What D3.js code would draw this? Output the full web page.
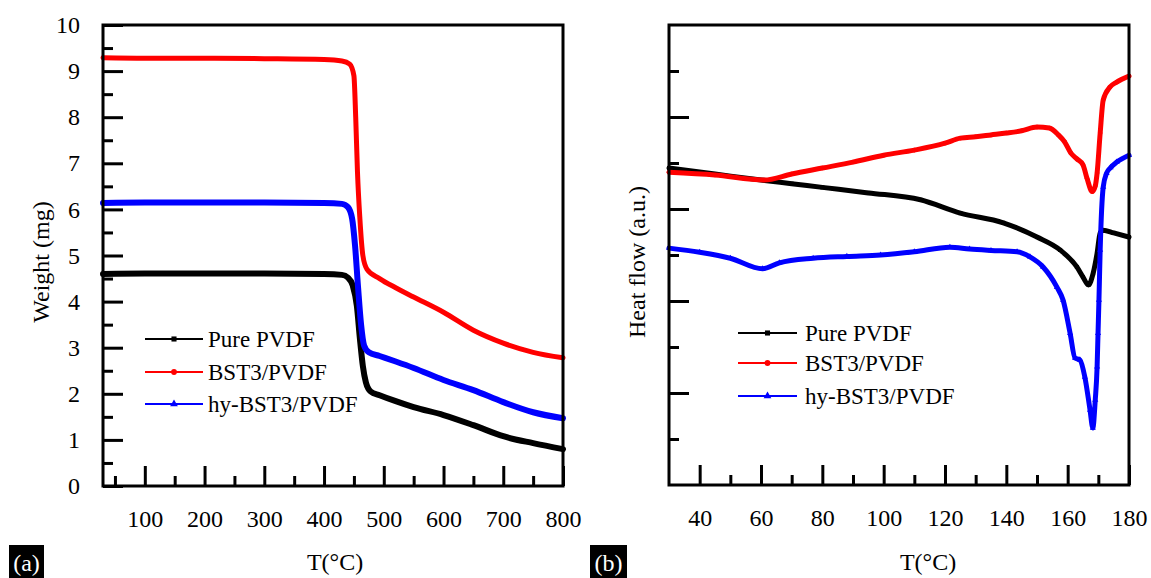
<!DOCTYPE html>
<html><head><meta charset="utf-8">
<script src="https://cdn.jsdelivr.net/npm/d3@7"></script>
<style>
html,body{margin:0;padding:0;background:#fff;}
svg{display:block;font-family:"Liberation Serif","Times New Roman",serif;}
</style></head>
<body><svg id="chart" width="1151" height="578"></svg>
<script>
// ---------- DATA ----------
const seriesNames = ["Pure PVDF", "BST3/PVDF", "hy-BST3/PVDF"];
const seriesColors = ["#000000", "#ff0000", "#0000ff"];

// (a) TGA: temperature (°C) and weight (mg)
const tgaPureT = [30,100,200,300,400,430,440,448,455,460,465,470,478,493,520,550,600,650,700,750,800];
const tgaPureW = [4.60,4.61,4.61,4.61,4.60,4.58,4.52,4.35,3.9,3.2,2.6,2.25,2.05,1.97,1.84,1.71,1.54,1.32,1.08,0.93,0.80];
const tgaBstT  = [30,100,200,300,400,430,443,450,453,456,460,465,472,493,520,550,600,650,700,750,800];
const tgaBstW  = [9.29,9.28,9.28,9.27,9.25,9.22,9.15,8.9,8.0,6.8,5.8,5.0,4.7,4.5,4.3,4.1,3.77,3.38,3.1,2.9,2.78];
const tgaHyT   = [30,100,200,300,400,430,440,447,452,457,462,467,475,493,520,550,600,650,700,750,800];
const tgaHyW   = [6.14,6.15,6.15,6.15,6.14,6.12,6.05,5.8,5.2,4.3,3.5,3.05,2.9,2.82,2.7,2.56,2.3,2.08,1.82,1.6,1.47];

// (b) DSC: temperature (°C) and heat flow (a.u.)
const dscPureT = [30,45,60,70,80,95,112,125,139,150,157.5,163,165,166.8,168.3,169.6,170.6,171.6,175,180];
const dscPureH = [6.89,6.76,6.63,6.55,6.47,6.35,6.20,5.91,5.70,5.39,5.11,4.74,4.52,4.35,4.6,5.04,5.48,5.54,5.48,5.39];
const dscBstT  = [30,45,61,70,80,90,100,110,120,125,130,135,140,145,150,154,157,159,161,163,165,166.3,168,169,169.6,170.6,171.6,173.8,176,180];
const dscBstH  = [6.80,6.74,6.63,6.76,6.89,7.02,7.17,7.28,7.43,7.54,7.57,7.61,7.65,7.70,7.78,7.76,7.61,7.46,7.22,7.09,6.96,6.67,6.38,6.5,6.78,7.65,8.37,8.65,8.76,8.89];
const dscHyT   = [30,40,50,60.5,66,77,88,99,110,121.6,128,135,143.5,147.7,152,156.5,158.5,160.8,162.4,164,165.6,167.3,168.2,169,169.6,169.9,170.2,170.6,171.6,172.7,174,176,180];
const dscHyH   = [5.15,5.06,4.93,4.70,4.83,4.93,4.97,5.0,5.07,5.17,5.13,5.10,5.07,4.96,4.74,4.30,4.02,3.30,2.76,2.72,2.35,1.63,1.24,1.85,2.57,3.30,4.02,5.11,6.48,6.78,6.90,7.02,7.17];

// tick labels
const tgaXTicks = [100,200,300,400,500,600,700,800];
const tgaXMinor = [50,150,250,350,450,550,650,750];
const tgaYTicks = [0,1,2,3,4,5,6,7,8,9,10];
const tgaYMinor = [0.5,1.5,2.5,3.5,4.5,5.5,6.5,7.5,8.5,9.5];
const dscXTicks = [40,60,80,100,120,140,160,180];
const dscXMinor = [50,70,90,110,130,150,170];
const dscYMajor = [2,4,6,8];
const dscYMinor = [1,3,5,7,9];

// ---------- DRAW ----------
const svg = d3.select("#chart");
svg.append("rect").attr("width",1151).attr("height",578).attr("fill","#fff");
const FONT = 24;

function panel(cfg){
  const g = svg.append("g");
  const x = d3.scaleLinear().domain(cfg.xd).range(cfg.xr);
  const y = d3.scaleLinear().domain(cfg.yd).range(cfg.yr);

  // curves
  const data = cfg.series;
  const line = d3.line().x(d=>x(d[0])).y(d=>y(d[1])).curve(d3.curveMonotoneX);
  data.forEach((s,i)=>{
    const pts = s.t.map((t,j)=>[t,s.v[j]]);
    g.append("path").datum(pts).attr("d",line).attr("fill","none")
      .attr("stroke",seriesColors[i]).attr("stroke-width",cfg.sw[i])
      .attr("stroke-linejoin","round").attr("stroke-linecap","round");
    if(cfg.markers){
      const sym = [d3.symbolSquare,d3.symbolCircle,d3.symbolTriangle][i];
      g.selectAll(null).data(pts).enter().append("path")
        .attr("d",d3.symbol().type(sym).size(16))
        .attr("transform",d=>`translate(${x(d[0])},${y(d[1])})`)
        .attr("fill",seriesColors[i]);
    }
  });

  // axes
  const xa = g.append("g").attr("transform",`translate(0,${cfg.yr[0]})`)
    .call(d3.axisBottom(x).tickValues(cfg.xt).tickSize(-20).tickPadding(24).tickFormat(d3.format("d")));
  g.append("g").attr("transform",`translate(0,${cfg.yr[0]})`)
    .call(d3.axisBottom(x).tickValues(cfg.xm).tickSize(-10).tickFormat(""));
  const ya = g.append("g").attr("transform",`translate(${cfg.xr[0]},0)`)
    .call(d3.axisLeft(y).tickValues(cfg.yt).tickSize(-20).tickPadding(23)
      .tickFormat(cfg.ylabels ? d3.format("d") : ""));
  g.append("g").attr("transform",`translate(${cfg.xr[0]},0)`)
    .call(d3.axisLeft(y).tickValues(cfg.ym).tickSize(-10).tickFormat(""));
  g.selectAll(".domain").remove();
  g.selectAll(".tick line").attr("stroke","#000").attr("stroke-width",3);
  g.selectAll(".tick text").attr("font-size",FONT).attr("fill","#000")
    .attr("font-family","Liberation Serif, Times New Roman, serif");

  // frame
  g.append("rect").attr("x",cfg.xr[0]).attr("y",cfg.yr[1])
    .attr("width",cfg.xr[1]-cfg.xr[0]).attr("height",cfg.yr[0]-cfg.yr[1])
    .attr("fill","none").attr("stroke","#000").attr("stroke-width",3);

  // axis titles
  g.append("text").attr("transform",`translate(${cfg.ylab[0]},${cfg.ylab[1]}) rotate(-90)`)
    .attr("text-anchor","middle").attr("font-size",FONT).text(cfg.ytitle);
  g.append("text").attr("x",cfg.xlab[0]).attr("y",cfg.xlab[1])
    .attr("text-anchor","middle").attr("font-size",FONT).text("T(°C)");

  // legend
  const lg = g.append("g");
  seriesNames.forEach((n,i)=>{
    const yy = cfg.leg.y[i];
    lg.append("line").attr("x1",cfg.leg.x0).attr("x2",cfg.leg.x1).attr("y1",yy).attr("y2",yy)
      .attr("stroke",seriesColors[i]).attr("stroke-width",2);
    const sym = [d3.symbolSquare,d3.symbolCircle,d3.symbolTriangle][i];
    lg.append("path").attr("d",d3.symbol().type(sym).size(26))
      .attr("transform",`translate(${(cfg.leg.x0+cfg.leg.x1)/2},${yy})`).attr("fill",seriesColors[i]);
    lg.append("text").attr("x",cfg.leg.tx).attr("y",yy).attr("dy","0.35em")
      .attr("font-size",23).text(n);
  });

  // panel tag
  g.append("rect").attr("x",cfg.tag[0]).attr("y",545).attr("width",cfg.tag[1]).attr("height",33).attr("fill","#000");
  g.append("text").attr("x",cfg.tag[0]+cfg.tag[1]/2).attr("y",571).attr("text-anchor","middle")
    .attr("font-size",FONT).attr("fill","#fff").text(cfg.tagText);
}

panel({
  xd:[30,800], xr:[103,563], yd:[0,10], yr:[486,25],
  series:[{t:tgaPureT,v:tgaPureW},{t:tgaBstT,v:tgaBstW},{t:tgaHyT,v:tgaHyW}],
  sw:[6,5,6], markers:false,
  xt:tgaXTicks, xm:tgaXMinor, yt:tgaYTicks, ym:tgaYMinor, ylabels:true,
  ytitle:"Weight (mg)", ylab:[49,262], xlab:[335,570],
  leg:{x0:145,x1:203,tx:208,y:[339,372,404]},
  tag:[9,35], tagText:"(a)"
});

panel({
  xd:[30,180], xr:[669,1129], yd:[0,10], yr:[485,25],
  series:[{t:dscPureT,v:dscPureH},{t:dscBstT,v:dscBstH},{t:dscHyT,v:dscHyH}],
  sw:[5,5,5], markers:true,
  xt:dscXTicks, xm:dscXMinor, yt:dscYMajor, ym:dscYMinor, ylabels:false,
  ytitle:"Heat flow (a.u.)", ylab:[645,262], xlab:[928,570],
  leg:{x0:738,x1:797,tx:805,y:[333,363,396]},
  tag:[590,37], tagText:"(b)"
});
</script>
</body></html>
